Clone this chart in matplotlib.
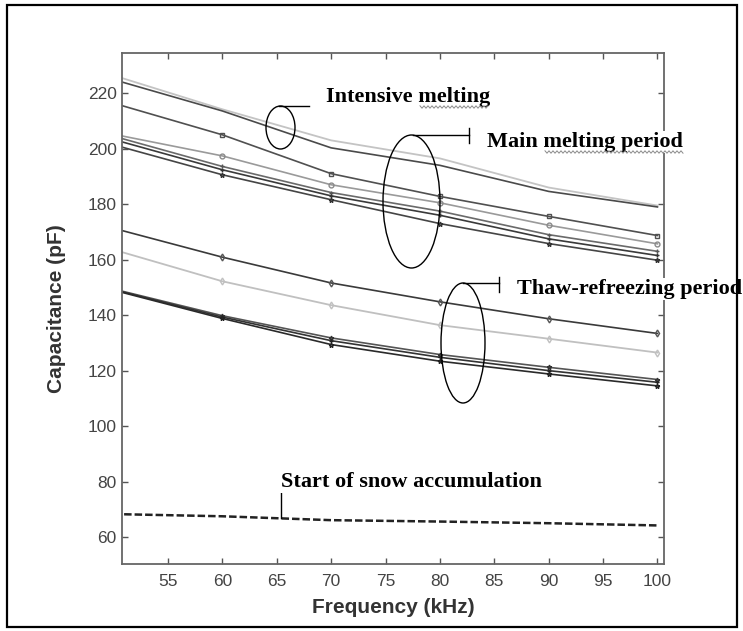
import matplotlib
matplotlib.use("Agg")
import matplotlib.pyplot as plt
from matplotlib.patches import Ellipse, Rectangle
from matplotlib.lines import Line2D

# ---------------- data ----------------
freq = [50, 60, 70, 80, 90, 100]

intensive_light = [226.4, 214.2, 203.0, 196.5, 186.0, 179.5]
intensive_dark = [224.9, 213.6, 200.3, 194.0, 184.6, 179.0]
main_square = [216.4, 205.0, 191.0, 182.8, 175.6, 168.7]
main_circle = [205.2, 197.4, 187.0, 180.5, 172.4, 165.7]
main_plus = [204.5, 193.6, 184.2, 177.5, 169.0, 163.0]
main_plus2 = [203.3, 192.4, 183.0, 176.0, 167.5, 161.5]
main_star = [201.4, 190.6, 181.6, 173.0, 165.8, 159.8]
thaw_diamond = [171.3, 160.9, 151.6, 144.8, 138.7, 133.4]
thaw_light = [163.6, 152.2, 143.6, 136.4, 131.5, 126.5]
thaw_low1 = [149.4, 139.8, 131.8, 125.8, 121.2, 116.8]
thaw_low2 = [149.2, 139.3, 130.8, 124.8, 120.0, 115.8]
thaw_low3 = [149.0, 138.8, 129.4, 123.4, 118.8, 114.5]
snow_start = [68.3, 67.5, 66.1, 65.6, 65.0, 64.2]

x_ticks = [55, 60, 65, 70, 75, 80, 85, 90, 95, 100]
y_ticks = [60, 80, 100, 120, 140, 160, 180, 200, 220]

W, H = 743, 631
fig = plt.figure(figsize=(W / 100, H / 100), dpi=100)

def fx(px):
    return px / W

def fy(py):
    return 1 - py / H

ax = fig.add_axes([fx(122.3), fy(564), fx(664) - fx(122.3), fy(52.7) - fy(564)])

mk = dict(markevery=[1, 2, 3, 4, 5], markersize=3.5, markerfacecolor='none')
ax.plot(freq, intensive_light, color='#c4c4c4', lw=1.3)
ax.plot(freq, intensive_dark, color='#4a4a4a', lw=1.2)
ax.plot(freq, main_square, color='#505050', lw=1.2, marker='s', markeredgecolor='#505050', **mk)
ax.plot(freq, main_circle, color='#9a9a9a', lw=1.2, marker='o', markeredgecolor='#8a8a8a', **mk)
ax.plot(freq, main_plus, color='#6a6a6a', lw=1.2, marker='+', markeredgecolor='#555555', **mk)
ax.plot(freq, main_plus2, color='#3a3a3a', lw=1.2, marker='+', markeredgecolor='#333333', **mk)
ax.plot(freq, main_star, color='#454545', lw=1.2, marker='*', markeredgecolor='#333333', **mk)
ax.plot(freq, thaw_diamond, color='#3a3a3a', lw=1.2, marker='d', markeredgecolor='#555555', **mk)
ax.plot(freq, thaw_light, color='#c0c0c0', lw=1.3, marker='d', markeredgecolor='#c0c0c0', **mk)
ax.plot(freq, thaw_low1, color='#555555', lw=1.2, marker='*', markeredgecolor='#333333', **mk)
ax.plot(freq, thaw_low2, color='#333333', lw=1.2, marker='+', markeredgecolor='#222222', **mk)
ax.plot(freq, thaw_low3, color='#2a2a2a', lw=1.2, marker='*', markeredgecolor='#222222', **mk)
ax.plot(freq, snow_start, color='#222222', lw=1.8, ls=(0, (3, 1.2)))

ax.set_xlim(50.8, 100.6)
ax.set_ylim(50.3, 234.6)
ax.set_xticks(x_ticks)
ax.set_yticks(y_ticks)
tick_font = ['Liberation Sans Narrow', 'Liberation Sans', 'DejaVu Sans']
for lab in ax.get_xticklabels() + ax.get_yticklabels():
    lab.set_family(tick_font)
    lab.set_fontsize(12.5)
    lab.set_color('#444444')
ax.tick_params(direction='in', length=4, width=1, color='#555555',
               top=True, right=True)
ax.tick_params(axis='y', pad=4)
ax.tick_params(axis='x', pad=7)
for s in ax.spines.values():
    s.set_color('#666666')
    s.set_linewidth(1.3)

ax.set_xlabel('Frequency (kHz)', family=['Liberation Sans', 'DejaVu Sans'],
              fontsize=15, fontweight='bold', color='#333333', labelpad=7)
ax.set_ylabel('Capacitance (pF)', family=['Liberation Sans', 'DejaVu Sans'],
              fontsize=15, fontweight='bold', color='#333333', labelpad=16)

# ---------------- annotations (figure pixel coordinates) ----------------
def ellipse(cx, cy, w, h):
    e = Ellipse((fx(cx), fy(cy)), w / W, h / H, transform=fig.transFigure,
                fill=False, edgecolor='black', lw=1.0)
    fig.add_artist(e)

def seg(x0, y0, x1, y1, lw=1.0):
    fig.add_artist(Line2D([fx(x0), fx(x1)], [fy(y0), fy(y1)],
                          transform=fig.transFigure, color='black', lw=lw))

def squiggle(x0, x1, y):
    xs, ys = [], []
    x, k = x0, 0
    while x <= x1:
        xs.append(fx(x))
        ys.append(fy(y + (1.2 if k % 2 else -1.2)))
        x += 2
        k += 1
    fig.add_artist(Line2D(xs, ys, transform=fig.transFigure,
                          color='#8a8a8a', lw=0.7, zorder=5))

serif = ['Liberation Serif', 'DejaVu Serif']
tkw = dict(family=serif, fontsize=16, fontweight='bold', va='center', ha='left',
           bbox=dict(facecolor='white', edgecolor='none', pad=1.0))

ellipse(280.5, 127.5, 29, 43)
seg(279, 106, 309, 106)
fig.text(fx(326), fy(97), 'Intensive melting', **tkw)
squiggle(420, 489, 107)

ellipse(411.5, 201.5, 57, 133)
seg(413, 135, 469, 135)
seg(469, 128, 469, 143)
fig.text(fx(487), fy(142), 'Main melting period', **tkw)
squiggle(545, 683, 152)

ellipse(463, 343, 44, 120)
seg(463, 283, 499, 283)
seg(499, 277, 499, 292)
fig.text(fx(517), fy(289), 'Thaw-refreezing period', **tkw)

seg(281, 490, 281, 518)
fig.text(fx(281), fy(482), 'Start of snow accumulation', **tkw)

# outer frame
fig.add_artist(Rectangle((fx(7), fy(627)), fx(737) - fx(7), fy(5) - fy(627),
                         transform=fig.transFigure, fill=False,
                         edgecolor='black', lw=1.6, zorder=10))

fig.savefig('out.png', dpi=100)
